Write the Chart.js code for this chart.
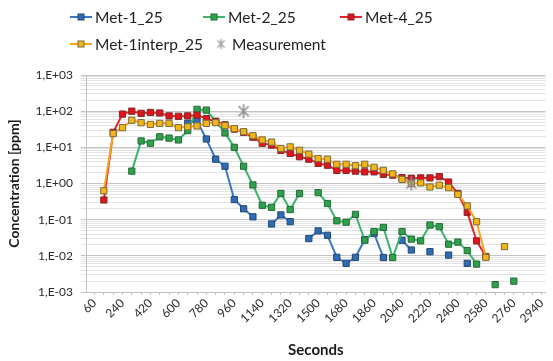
<!DOCTYPE html>
<html>
<head>
<meta charset="utf-8">
<script src="https://cdn.jsdelivr.net/npm/chart.js@4.4.1/dist/chart.umd.min.js"></script>
<style>
  html, body { margin: 0; padding: 0; background: #ffffff; }
  #wrap { width: 553px; height: 361px; position: relative; }
</style>
</head>
<body>
<div id="wrap"><canvas id="chart" width="553" height="361"></canvas></div>
<script>
// Sampling times in seconds
const seconds = [120, 180, 240, 300, 360, 420, 480, 540, 600, 660, 720, 780, 840, 900, 960,
  1020, 1080, 1140, 1200, 1260, 1320, 1380, 1440, 1500, 1560, 1620, 1680, 1740, 1800, 1860,
  1920, 1980, 2040, 2100, 2160, 2220, 2280, 2340, 2400, 2460, 2520, 2580, 2640, 2700, 2760];

// Concentrations in ppm (null = no value)
const met1 = [null, null, null, null, null, null, null, null, null,
  46, 54, 17, 4.7, 3.0, 0.36, 0.2, 0.12, null, 0.076, 0.135, 0.088, null, 0.030, 0.049, 0.037,
  0.0091, 0.0062, 0.0091, 0.028, 0.042, 0.009, null, 0.027, 0.0145, null, 0.013, null, 0.0105,
  null, 0.0062, null, null, null, null, null];

const met2 = [null, null, null,
  2.2, 15, 13, 19.5, 18, 16, 29, 112, 107, 52, 25, 10, 3.0, 0.91, 0.25, 0.22, 0.53, 0.19, 0.53,
  null, 0.56, 0.28, 0.093, 0.085, 0.14, 0.027, 0.047, 0.061, 0.009, 0.047, 0.029, 0.026, 0.071,
  0.064, 0.021, 0.024, 0.014, 0.0059, null, 0.0016, null, 0.0020];

const met4 = [0.35, 26, 83, 100, 87, 92, 89, 74, 72, 74, 78, 62, 52, 42, 32, 26, 19, 13, 11.5,
  8.2, 6.8, 5.5, 4.7, 3.6, 3.2, 2.3, 2.3, 2.2, 2.1, 2.1, 1.8, 1.7, 1.45, 1.4, 1.43, 1.43, 1.55,
  1.1, 0.53, 0.16, 0.026, 0.0096, null, null, null];

const met1interp = [0.63, 24, 35, 56, 48, 43, 46, 46, 35, 37, 39, 46, 48, 40, 33, 27, 21, 16, 14,
  9.3, 10.3, 8.3, 6.5, 4.9, 4.7, 3.4, 3.4, 3.1, 3.4, 2.8, 2.3, 1.85, 1.3, 1.0, 1.04, 0.8, 0.9,
  0.77, 0.50, 0.24, 0.088, 0.0091, null, 0.018, null];

const measSeconds = [1020, 2100];
const measValues = [100, 1.0];

// Axis tick values
const xTickLabels = [60, 240, 420, 600, 780, 960, 1140, 1320, 1500, 1680, 1860, 2040, 2220, 2400, 2580, 2760, 2940];
const yDecades = [0.001, 0.01, 0.1, 1, 10, 100, 1000];

const FONT = 'Lato, "Open Sans", sans-serif';

function toPoints(xs, ys) {
  return xs.map((x, i) => ({ x: x, y: ys[i] }));
}

function sci(v) {
  const e = Math.round(Math.log10(v));
  const sign = e < 0 ? '-' : '+';
  const abs = Math.abs(e);
  return '1,E' + sign + (abs < 10 ? '0' : '') + abs;
}

function isDecade(v) {
  const l = Math.log10(v);
  return Math.abs(l - Math.round(l)) < 1e-9;
}

// Asterisk marker: a vertical bar crossed by an X
function asteriskMarker(r, color, width) {
  const size = Math.ceil(r * 2 + width * 2);
  const c = document.createElement('canvas');
  c.width = size; c.height = size;
  const g = c.getContext('2d');
  const m = size / 2, d = r * 0.72;
  g.strokeStyle = color;
  g.lineWidth = width;
  g.beginPath();
  g.moveTo(m, m - r); g.lineTo(m, m + r);
  g.moveTo(m - d, m - d); g.lineTo(m + d, m + d);
  g.moveTo(m + d, m - d); g.lineTo(m - d, m + d);
  g.stroke();
  return c;
}

const MEAS_COLOR = '#8f8f8f';
const measMarker = asteriskMarker(7, MEAS_COLOR, 1.6);
const measLegendMarker = asteriskMarker(5, '#a0a0a0', 1.4);

function series(label, values, line, fill, edge, order) {
  return {
    label: label,
    data: toPoints(seconds, values),
    borderColor: line,
    backgroundColor: fill,
    pointBackgroundColor: fill,
    pointBorderColor: edge,
    pointBorderWidth: 1,
    pointStyle: 'rect',
    pointRadius: 4.4,
    borderWidth: 2,
    tension: 0,
    spanGaps: false,
    order: order
  };
}

const datasets = [
  series('Met-1_25', met1, '#3b78c4', '#2f6cb8', '#24466e', 4),
  series('Met-2_25', met2, '#3cb469', '#2fa14c', '#236b36', 3),
  series('Met-4_25', met4, '#e5242a', '#e0141c', '#7e2a28', 2),
  series('Met-1interp_25', met1interp, '#f4a623', '#f3b619', '#7c6a3e', 1),
  {
    label: 'Measurement',
    data: toPoints(measSeconds, measValues),
    showLine: false,
    borderColor: MEAS_COLOR,
    backgroundColor: MEAS_COLOR,
    pointStyle: measMarker,
    order: 0
  }
];

// Two-row legend drawn above the plot
const legendSlots = [
  { x: 70, y: 17 }, { x: 203, y: 17 }, { x: 340, y: 17 },
  { x: 70, y: 44 }, { x: 208, y: 44 }
];

const rowLegend = {
  id: 'rowLegend',
  afterDraw(chart) {
    const ctx = chart.ctx;
    ctx.save();
    ctx.font = '15.5px ' + FONT;
    ctx.textBaseline = 'middle';
    chart.data.datasets.forEach((ds, i) => {
      const s = legendSlots[i];
      const cx = s.x + 11;
      if (ds.showLine !== false) {
        ctx.strokeStyle = ds.borderColor;
        ctx.lineWidth = 2;
        ctx.beginPath();
        ctx.moveTo(s.x, s.y);
        ctx.lineTo(s.x + 22, s.y);
        ctx.stroke();
        ctx.fillStyle = ds.pointBackgroundColor;
        ctx.strokeStyle = ds.pointBorderColor;
        ctx.lineWidth = 1;
        ctx.fillRect(cx - 3, s.y - 3, 6, 6);
        ctx.strokeRect(cx - 3, s.y - 3, 6, 6);
      } else {
        const m = measLegendMarker;
        ctx.drawImage(m, cx + 2 - m.width / 2, s.y - m.height / 2);
      }
      ctx.fillStyle = '#1e1e1e';
      ctx.fillText(ds.label, s.x + (ds.showLine !== false ? 25 : 24), s.y + 1);
    });
    ctx.restore();
  }
};

new Chart(document.getElementById('chart'), {
  type: 'line',
  data: { datasets: datasets },
  plugins: [rowLegend],
  options: {
    responsive: false,
    devicePixelRatio: 1,
    animation: false,
    layout: { padding: { left: 4, right: 5, top: 75, bottom: 0 } },
    plugins: {
      legend: { display: false },
      tooltip: { enabled: false }
    },
    scales: {
      x: {
        type: 'linear',
        min: 5,
        max: 2965,
        afterBuildTicks(scale) {
          const t = [];
          for (let v = 60; v <= 2940; v += 60) t.push({ value: v });
          scale.ticks = t;
        },
        afterFit(scale) { scale.height = 69; },
        ticks: {
          autoSkip: false,
          minRotation: 45,
          maxRotation: 45,
          padding: 1,
          color: '#2a2a2a',
          font: { family: FONT, size: 12 },
          callback(v) { return xTickLabels.includes(v) ? String(v) : ''; }
        },
        grid: {
          drawOnChartArea: false,
          drawTicks: true,
          tickLength: 3,
          color: '#bdbdbd'
        },
        border: { color: '#bdbdbd' },
        title: {
          display: true,
          text: 'Seconds',
          color: '#1a1a1a',
          font: { family: FONT, size: 15, weight: 'bold' },
          padding: { top: 0, bottom: 2 }
        }
      },
      y: {
        type: 'logarithmic',
        min: 0.001,
        max: 1000,
        afterBuildTicks(scale) {
          const t = [];
          yDecades.forEach((d, i) => {
            if (i === yDecades.length - 1) { t.push({ value: d }); return; }
            for (let k = 1; k <= 9; k++) t.push({ value: d * k });
          });
          scale.ticks = t;
        },
        afterFit(scale) { scale.width = 82; },
        ticks: {
          autoSkip: false,
          padding: 8,
          color: '#2a2a2a',
          font: { family: FONT, size: 12 },
          callback(v) { return isDecade(v) ? sci(v) : ''; }
        },
        grid: {
          tickLength: 5,
          color(c) { return c.tick && isDecade(c.tick.value) ? '#c4c4c4' : '#e3e3e3'; },
          lineWidth: 1
        },
        border: { color: '#c4c4c4' },
        title: {
          display: true,
          text: 'Concentration [ppm]',
          color: '#1a1a1a',
          font: { family: FONT, size: 14, weight: 'bold' },
          padding: { top: 2, bottom: 4 }
        }
      }
    }
  }
});
</script>
</body>
</html>
